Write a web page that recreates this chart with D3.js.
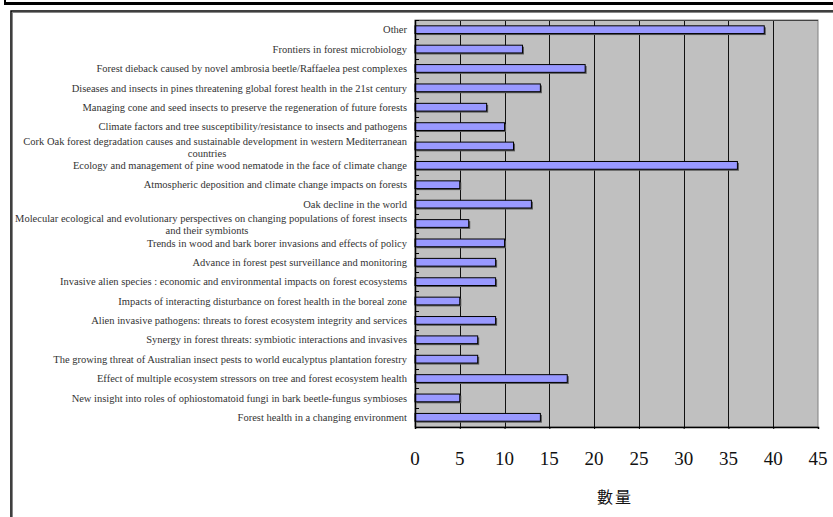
<!DOCTYPE html>
<html><head><meta charset="utf-8">
<script src="https://cdn.jsdelivr.net/npm/d3@7"></script>
<style>
body{margin:0;background:#fff;}
svg{display:block;}
</style></head>
<body>
<svg id="chart" width="833" height="517"></svg>
<script>
const categories = [
  "Other",
  "Frontiers in forest microbiology",
  "Forest dieback caused by novel ambrosia beetle/Raffaelea pest complexes",
  "Diseases and insects in pines threatening global forest health in the 21st century",
  "Managing cone and seed insects to preserve the regeneration of future forests",
  "Climate factors and tree susceptibility/resistance to insects and pathogens",
  "Cork Oak forest degradation causes and sustainable development in western Mediterranean|countries",
  "Ecology and management of pine wood nematode in the face of climate change",
  "Atmospheric deposition and climate change impacts on forests",
  "Oak decline in the world",
  "Molecular ecological and evolutionary perspectives on changing populations of forest insects|and their symbionts",
  "Trends in wood and bark borer invasions and effects of policy",
  "Advance in forest pest surveillance and monitoring",
  "Invasive alien species : economic and environmental impacts on forest ecosystems",
  "Impacts of interacting disturbance on forest health in the boreal zone",
  "Alien invasive pathogens: threats to forest ecosystem integrity and services",
  "Synergy in forest threats: symbiotic interactions and invasives",
  "The growing threat of Australian insect pests to world eucalyptus plantation forestry",
  "Effect of multiple ecosystem stressors on tree and forest ecosystem health",
  "New insight into roles of ophiostomatoid fungi in bark beetle-fungus symbioses",
  "Forest health in a changing environment"
];
const values = [39, 12, 19, 14, 8, 10, 11, 36, 5, 13, 6, 10, 9, 9, 5, 9, 7, 7, 17, 5, 14];
const xTicks = [0, 5, 10, 15, 20, 25, 30, 35, 40, 45];
const xTitle = "數量";

const svg = d3.select("#chart");
const plot = {left: 415, right: 818, top: 20, bottom: 427};

// frame decorations
svg.append("line").attr("x1",5).attr("x2",833).attr("y1",3.5).attr("y2",3.5)
  .attr("stroke","#000").attr("stroke-width",3);
svg.append("line").attr("x1",5).attr("x2",5).attr("y1",0).attr("y2",5)
  .attr("stroke","#000").attr("stroke-width",2);
svg.append("rect").attr("x",11).attr("y",11).attr("width",830).attr("height",520)
  .attr("fill","none").attr("stroke","#000").attr("stroke-width",1.5);
svg.append("line").attr("x1",12.5).attr("x2",12.5).attr("y1",12).attr("y2",517)
  .attr("stroke","#888").attr("stroke-width",1);
svg.append("line").attr("x1",12).attr("x2",833).attr("y1",12.5).attr("y2",12.5)
  .attr("stroke","#888").attr("stroke-width",1);

const x = d3.scaleLinear().domain([0,45]).range([plot.left, plot.right]);
const y = d3.scaleBand().domain(categories).range([plot.top, plot.bottom]).paddingInner(0.6).paddingOuter(0.3);

// background
svg.append("rect").attr("x",plot.left).attr("y",plot.top)
  .attr("width",plot.right-plot.left).attr("height",plot.bottom-plot.top)
  .attr("fill","#C0C0C0").attr("stroke","#808080").attr("stroke-width",1);

// gridlines
svg.append("g").selectAll("line").data(xTicks.slice(1, -1)).join("line")
  .attr("x1",d=>Math.round(x(d))+0.5).attr("x2",d=>Math.round(x(d))+0.5)
  .attr("y1",plot.top).attr("y2",plot.bottom)
  .attr("stroke","#111").attr("stroke-width",1);
svg.append("line").attr("x1",plot.left).attr("x2",plot.right)
  .attr("y1",plot.top+0.5).attr("y2",plot.top+0.5).attr("stroke","#444");

// bars with shadow
const bars = svg.append("g");
const bh = y.bandwidth();
bars.selectAll("rect.sh").data(values).join("rect").attr("class","sh")
  .attr("x", x(0)+1.5).attr("y",(d,i)=>y(categories[i])+1.5)
  .attr("width", d=>x(d)-x(0)).attr("height", bh)
  .attr("fill","#555");
bars.selectAll("rect.bar").data(values).join("rect").attr("class","bar")
  .attr("x", x(0)).attr("y",(d,i)=>y(categories[i]))
  .attr("width", d=>x(d)-x(0)).attr("height", bh)
  .attr("fill","#9999FF").attr("stroke","#000").attr("stroke-width",1);

// left axis with ticks on category boundaries
const step = y.step();
const bounds = d3.range(categories.length+1).map(i=>plot.top + (plot.bottom-plot.top)*i/categories.length);
svg.append("g").selectAll("line").data(bounds).join("line")
  .attr("x1",plot.left).attr("x2",plot.left+4)
  .attr("y1",d=>Math.round(d)+0.5).attr("y2",d=>Math.round(d)+0.5)
  .attr("stroke","#000");
svg.append("line").attr("x1",plot.left+0.5).attr("x2",plot.left+0.5)
  .attr("y1",plot.top).attr("y2",plot.bottom).attr("stroke","#000").attr("stroke-width",1.5);

// bottom axis
const xAxis = d3.axisBottom(x).tickValues(xTicks).tickSize(2).tickFormat("");
const gx = svg.append("g").attr("transform",`translate(0,${plot.bottom})`).call(xAxis);
gx.select(".domain").attr("stroke","#000").attr("stroke-width",1.5);
gx.selectAll(".tick line").attr("stroke","#000");

// x tick labels
svg.append("g").selectAll("text").data(xTicks).join("text")
  .attr("x", d=>x(d)).attr("y", 465)
  .attr("text-anchor","middle")
  .attr("font-family","'Liberation Serif', 'Times New Roman', serif")
  .attr("font-size",19).attr("fill","#111")
  .text(d=>d);

svg.append("text").attr("x",615).attr("y",503).attr("text-anchor","middle")
  .attr("font-family","'Noto Sans CJK TC', sans-serif").attr("font-size",16)
  .attr("letter-spacing",2).attr("fill","#111").text(xTitle);

// category labels
const lab = svg.append("g")
  .attr("font-family","'Liberation Serif', 'Times New Roman', serif")
  .attr("font-size",10.5).attr("fill","#333");
categories.forEach((c,i)=>{
  const cy = y(c) + bh/2;
  const parts = c.split("|");
  if (parts.length === 1) {
    lab.append("text").attr("x",407).attr("y",cy).attr("dy","0.35em")
      .attr("text-anchor","end").text(c);
  } else {
    lab.append("text").attr("x",407).attr("y",cy-5).attr("dy","0.35em")
      .attr("text-anchor","end").text(parts[0]);
    lab.append("text").attr("x",207).attr("y",cy+7).attr("dy","0.35em")
      .attr("text-anchor","middle").text(parts[1]);
  }
});
</script>
</body></html>
